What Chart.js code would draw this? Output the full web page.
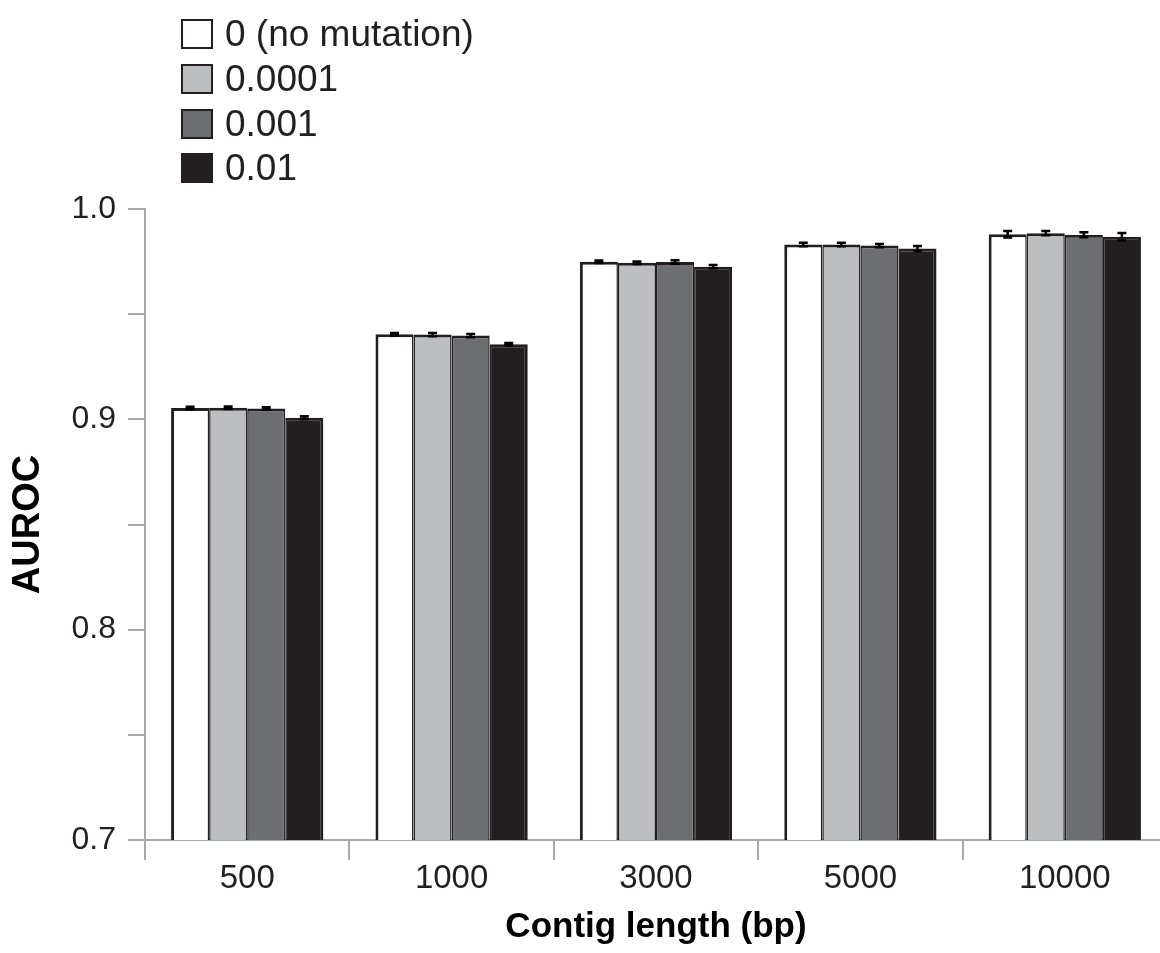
<!DOCTYPE html>
<html>
<head>
<meta charset="utf-8">
<script src="https://cdn.jsdelivr.net/npm/chart.js@4"></script>
<style>
  html, body { margin: 0; padding: 0; background: #fff; overflow: hidden; }
  #wrap { position: relative; width: 1170px; height: 953px; }
  #legend { position: absolute; left: 181px; top: 12px; font-family: "Liberation Sans", Arial, sans-serif; font-size: 37px; color: #231f20; }
  .item { display: flex; align-items: center; height: 44.7px; }
  .swatch { width: 28px; height: 26px; border: 2.5px solid #231f20; margin-right: 12px; box-sizing: content-box; }
</style>
</head>
<body>
<div id="wrap">
  <canvas id="auroc-chart" width="1170" height="953"></canvas>
  <div id="legend"></div>
</div>
<script>
const categories = ['500', '1000', '3000', '5000', '10000'];
const seriesNames = ['0 (no mutation)', '0.0001', '0.001', '0.01'];
const yTickLabels = ['0.7', '0.8', '0.9', '1.0'];

// mean AUROC per contig length, one array per mutation rate
const noMutation = [0.9054, 0.9405, 0.9749, 0.9831, 0.9880];
const rate0001 = [0.9055, 0.9403, 0.9744, 0.9831, 0.9885];
const rate001 = [0.9052, 0.9398, 0.9748, 0.9826, 0.9878];
const rate01 = [0.9008, 0.9357, 0.9726, 0.9812, 0.9868];

// standard errors
const noMutationErr = [0.0006, 0.0006, 0.0006, 0.0008, 0.0015];
const rate0001Err = [0.0006, 0.0008, 0.0006, 0.0008, 0.0010];
const rate001Err = [0.0006, 0.0008, 0.0008, 0.0008, 0.0012];
const rate01Err = [0.0007, 0.0006, 0.0008, 0.0012, 0.0018];

const FILLS = ['#ffffff', '#bcbec0', '#6d6e71', '#231f20'];
const EDGE = '#231f20';
const AXIS_GREY = '#a7a9ac';
const FONT = '"Liberation Sans", Arial, sans-serif';

const values = [noMutation, rate0001, rate001, rate01];
const errors = [noMutationErr, rate0001Err, rate001Err, rate01Err];

const errorBars = {
  id: 'errorBars',
  afterDatasetsDraw(chart) {
    const ctx = chart.ctx;
    const y = chart.scales.y;
    ctx.save();
    ctx.strokeStyle = '#000';
    ctx.lineWidth = 2.5;
    chart.data.datasets.forEach((ds, i) => {
      const meta = chart.getDatasetMeta(i);
      meta.data.forEach((bar, j) => {
        const v = ds.data[j];
        const e = ds.errors[j];
        const top = y.getPixelForValue(v + e);
        const bottom = y.getPixelForValue(v - e);
        ctx.beginPath();
        ctx.moveTo(bar.x, top);
        ctx.lineTo(bar.x, bottom);
        ctx.moveTo(bar.x - 4.5, top);
        ctx.lineTo(bar.x + 4.5, top);
        ctx.moveTo(bar.x - 4.5, bottom);
        ctx.lineTo(bar.x + 4.5, bottom);
        ctx.stroke();
      });
    });
    ctx.restore();
  },
};

function buildLegend() {
  const legend = document.getElementById('legend');
  seriesNames.forEach((name, i) => {
    const item = document.createElement('div');
    item.className = 'item';
    const swatch = document.createElement('span');
    swatch.className = 'swatch';
    swatch.style.background = FILLS[i];
    const label = document.createElement('span');
    label.textContent = name;
    item.appendChild(swatch);
    item.appendChild(label);
    legend.appendChild(item);
  });
}

function createChartData() {
  const last = seriesNames.length - 1;
  return {
    labels: categories,
    datasets: seriesNames.map((name, i) => ({
      label: name,
      data: values[i],
      errors: errors[i],
      backgroundColor: FILLS[i],
      borderColor: EDGE,
      // neighbouring bars share one outline between them
      borderWidth: {
        top: 3,
        bottom: 0,
        left: i === 0 ? 3 : 1.5,
        right: i === last ? 3 : 1.5,
      },
      borderSkipped: false,
      barPercentage: 1.0,
      categoryPercentage: 0.745,
    })),
  };
}

function createChartScales() {
  return {
    x: {
      grid: {
        offset: true,
        drawOnChartArea: false,
        color: AXIS_GREY,
        lineWidth: 2,
        tickLength: 20,
      },
      border: { color: AXIS_GREY, width: 2 },
      ticks: {
        color: '#231f20',
        font: { family: FONT, size: 33 },
        padding: -1,
      },
      title: {
        display: true,
        text: 'Contig length (bp)',
        color: '#000',
        font: { family: FONT, size: 35, weight: 'bold' },
        padding: { top: 0, bottom: 5 },
      },
      afterFit(scale) {
        scale.height = 113;
      },
    },
    y: {
      min: 0.7,
      max: 1.0,
      grid: {
        drawOnChartArea: false,
        color: AXIS_GREY,
        lineWidth: 2,
        tickLength: 17,
      },
      border: { color: AXIS_GREY, width: 2 },
      ticks: {
        stepSize: 0.05,
        color: '#231f20',
        font: { family: FONT, size: 32 },
        padding: 12,
        callback: function (value) {
          const hit = yTickLabels.find((t) => Math.abs(parseFloat(t) - value) < 1e-6);
          return hit || '';
        },
      },
      title: {
        display: true,
        text: 'AUROC',
        color: '#000',
        font: { family: FONT, size: 38, weight: 'bold' },
        padding: { top: 6, bottom: 0 },
      },
      afterFit(scale) {
        scale.width = 145;
      },
    },
  };
}

buildLegend();

new Chart(document.getElementById('auroc-chart').getContext('2d'), {
  type: 'bar',
  data: createChartData(),
  options: {
    responsive: false,
    animation: false,
    layout: { padding: { top: 209, right: 3, bottom: 0, left: 0 } },
    plugins: {
      legend: { display: false },
      tooltip: { enabled: false },
    },
    scales: createChartScales(),
  },
  plugins: [errorBars],
});
</script>
</body>
</html>
